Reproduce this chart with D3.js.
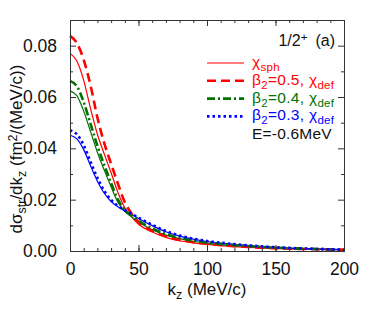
<!DOCTYPE html>
<html>
<head>
<meta charset="utf-8">
<script src="https://cdn.jsdelivr.net/npm/d3@7"></script>
<style>
  body { margin: 0; background: #fff; }
  text { font-family: "Liberation Sans", Arial, sans-serif; }
</style>
</head>
<body>
<div id="chart"></div>
<script>
let kz = [0, 5, 10, 15, 20, 25, 30, 35, 40, 45, 50, 60, 70, 80, 90, 100, 120, 140, 160, 180, 200]
let redSph = [0.0770, 0.0740, 0.0665, 0.0555, 0.0455, 0.0378, 0.0305, 0.0228, 0.0168, 0.0133, 0.0104, 0.0074, 0.0053, 0.0040, 0.0032, 0.0026, 0.0017, 0.0012, 0.0008, 0.0006, 0.0004]
let redDef = [0.0838, 0.0810, 0.0745, 0.0645, 0.0520, 0.0420, 0.0340, 0.0262, 0.0190, 0.0145, 0.0113, 0.0079, 0.0057, 0.0043, 0.0034, 0.0028, 0.0019, 0.0013, 0.0009, 0.0007, 0.0005]
let greenSph = [0.0624, 0.0605, 0.0545, 0.0465, 0.0385, 0.0315, 0.0250, 0.0190, 0.0155, 0.0133, 0.0113, 0.0083, 0.0062, 0.0048, 0.0038, 0.0031, 0.0021, 0.0015, 0.0010, 0.0007, 0.0005]
let greenDef = [0.0663, 0.0642, 0.0580, 0.0495, 0.0410, 0.0335, 0.0265, 0.0200, 0.0160, 0.0138, 0.0118, 0.0088, 0.0066, 0.0051, 0.0040, 0.0033, 0.0023, 0.0016, 0.0011, 0.0008, 0.0005]
let blueSph = [0.0451, 0.0437, 0.0395, 0.0332, 0.0272, 0.0225, 0.0193, 0.0172, 0.0156, 0.0142, 0.0127, 0.0099, 0.0075, 0.0058, 0.0046, 0.0037, 0.0026, 0.0017, 0.0011, 0.0008, 0.0005]
let blueDef = [0.0470, 0.0455, 0.0412, 0.0348, 0.0285, 0.0234, 0.0199, 0.0176, 0.0159, 0.0145, 0.0130, 0.0102, 0.0078, 0.0060, 0.0048, 0.0039, 0.0027, 0.0018, 0.0012, 0.0008, 0.0005]
let xTicks = [0, 50, 100, 150, 200]
let yTicks = [0, 0.02, 0.04, 0.06, 0.08]

let margin = { top: 20, right: 30, bottom: 69, left: 70 }
let dims = { width: 374, height: 320 }
let w = dims.width - margin.left - margin.right
let h = dims.height - margin.top - margin.bottom

let series = [
  { values: redSph, color: "#ff0000", width: 1.2, dash: null },
  { values: greenSph, color: "#007000", width: 1.2, dash: null },
  { values: blueSph, color: "#0000ff", width: 1.2, dash: null },
  { values: redDef, color: "#ff0000", width: 2.6, dash: "9,5" },
  { values: greenDef, color: "#007000", width: 2.6, dash: "8,3,2,3" },
  { values: blueDef, color: "#0000ff", width: 2.6, dash: "2.5,3" }
]

const svg = d3.select("#chart")
  .append("svg")
  .attr("width", dims.width)
  .attr("height", dims.height)
const g = svg.append("g")
  .attr("transform", `translate(${margin.left},${margin.top})`)

let x = d3.scaleLinear().domain([0, 200]).range([0, w])
let y = d3.scaleLinear().domain([0, 0.09]).range([h, 0])

// curves
let line = d3.line()
  .x((d, i) => x(kz[i]))
  .y(d => y(d))
  .curve(d3.curveMonotoneX)

series.forEach(s => {
  g.append("path")
    .datum(s.values)
    .attr("d", line)
    .attr("fill", "none")
    .attr("stroke", s.color)
    .attr("stroke-width", s.width)
    .attr("stroke-dasharray", s.dash)
})

// axes, ticks pointing inwards on all sides
function styleAxis(sel) {
  sel.selectAll(".domain").attr("stroke", "#333")
  sel.selectAll(".tick line").attr("stroke", "#333")
  sel.selectAll("text").attr("font-size", 17.5).attr("fill", "#111")
}
g.append("g").attr("transform", `translate(0,${h})`)
  .call(d3.axisBottom(x).tickValues(xTicks).tickSize(-6).tickPadding(12).tickSizeOuter(0))
  .call(styleAxis)
g.append("g").attr("transform", `translate(0,${h})`)
  .call(d3.axisBottom(x).tickValues(d3.range(0, 201, 10)).tickSize(-3).tickFormat("").tickSizeOuter(0))
  .call(styleAxis)
g.append("g")
  .call(d3.axisTop(x).tickValues(xTicks).tickSize(-6).tickFormat("").tickSizeOuter(0))
  .call(styleAxis)
g.append("g")
  .call(d3.axisTop(x).tickValues(d3.range(0, 201, 10)).tickSize(-3).tickFormat("").tickSizeOuter(0))
  .call(styleAxis)
g.append("g")
  .call(d3.axisLeft(y).tickValues(yTicks).tickSize(-6).tickPadding(13).tickFormat(d3.format(".2f")).tickSizeOuter(0))
  .call(styleAxis)
g.append("g")
  .call(d3.axisLeft(y).tickValues(d3.range(0.01, 0.09, 0.02)).tickSize(-3).tickFormat("").tickSizeOuter(0))
  .call(styleAxis)
g.append("g").attr("transform", `translate(${w},0)`)
  .call(d3.axisRight(y).tickValues(yTicks).tickSize(-6).tickFormat("").tickSizeOuter(0))
  .call(styleAxis)
g.append("g").attr("transform", `translate(${w},0)`)
  .call(d3.axisRight(y).tickValues(d3.range(0.01, 0.09, 0.02)).tickSize(-3).tickFormat("").tickSizeOuter(0))
  .call(styleAxis)

// axis titles
let xt = svg.append("text")
  .attr("x", margin.left + w / 2)
  .attr("y", 295)
  .attr("text-anchor", "middle")
  .attr("font-size", 17)
  .attr("fill", "#111")
xt.append("tspan").text("k")
xt.append("tspan").attr("baseline-shift", "-30%").attr("font-size", 12.5).text("z")
xt.append("tspan").text(" (MeV/c)")

let yt = svg.append("text")
  .attr("transform", "translate(22,149) rotate(-90)")
  .attr("text-anchor", "middle")
  .attr("font-size", 17)
  .attr("fill", "#111")
yt.append("tspan").text("dσ")
yt.append("tspan").attr("baseline-shift", "-30%").attr("font-size", 12.5).text("str")
yt.append("tspan").text("/dk")
yt.append("tspan").attr("baseline-shift", "-30%").attr("font-size", 12.5).text("z")
yt.append("tspan").text(" (fm")
yt.append("tspan").attr("baseline-shift", "40%").attr("font-size", 12.5).text("2")
yt.append("tspan").text("/(MeV/c))")

// label in the corner
let lab = g.append("text")
  .attr("x", w - 9)
  .attr("y", 26)
  .attr("text-anchor", "end")
  .attr("font-size", 16)
  .attr("fill", "#111")
lab.append("tspan").text("1/2")
lab.append("tspan").attr("baseline-shift", "40%").attr("font-size", 11.5).text("+")
lab.append("tspan").attr("dx", 8).text("(a)")

// legend
let legendItems = [
  { color: "#ff0000", width: 1.2, dash: null, main: "χ", sub: "sph", pre: null },
  { color: "#ff0000", width: 2.6, dash: "9,5", main: "χ", sub: "def", pre: "=0.5, " },
  { color: "#007000", width: 2.6, dash: "8,3,2,3", main: "χ", sub: "def", pre: "=0.4, " },
  { color: "#0000ff", width: 2.6, dash: "2.5,3", main: "χ", sub: "def", pre: "=0.3, " }
]
legendItems.forEach((d, i) => {
  let ly = 43 + i * 17.8
  g.append("line")
    .attr("x1", 137).attr("x2", 174)
    .attr("y1", ly).attr("y2", ly)
    .attr("stroke", d.color)
    .attr("stroke-width", d.width)
    .attr("stroke-dasharray", d.dash)
  let t = g.append("text")
    .attr("x", 182)
    .attr("y", ly + 4)
    .attr("font-size", 15.5)
    .attr("letter-spacing", 0.3)
    .attr("fill", d.color)
  if (d.pre) {
    t.append("tspan").text("β")
    t.append("tspan").attr("baseline-shift", "-30%").attr("font-size", 11.5).text("2")
    t.append("tspan").text(d.pre)
  }
  t.append("tspan").text(d.main)
  t.append("tspan").attr("baseline-shift", "-30%").attr("font-size", 11.5).text(d.sub)
})
g.append("text")
  .attr("x", 182)
  .attr("y", 43 + 4 * 17.8 + 5)
  .attr("font-size", 15.5)
  .attr("letter-spacing", 0.2)
  .attr("fill", "#111")
  .text("E=-0.6MeV")
</script>
</body>
</html>
